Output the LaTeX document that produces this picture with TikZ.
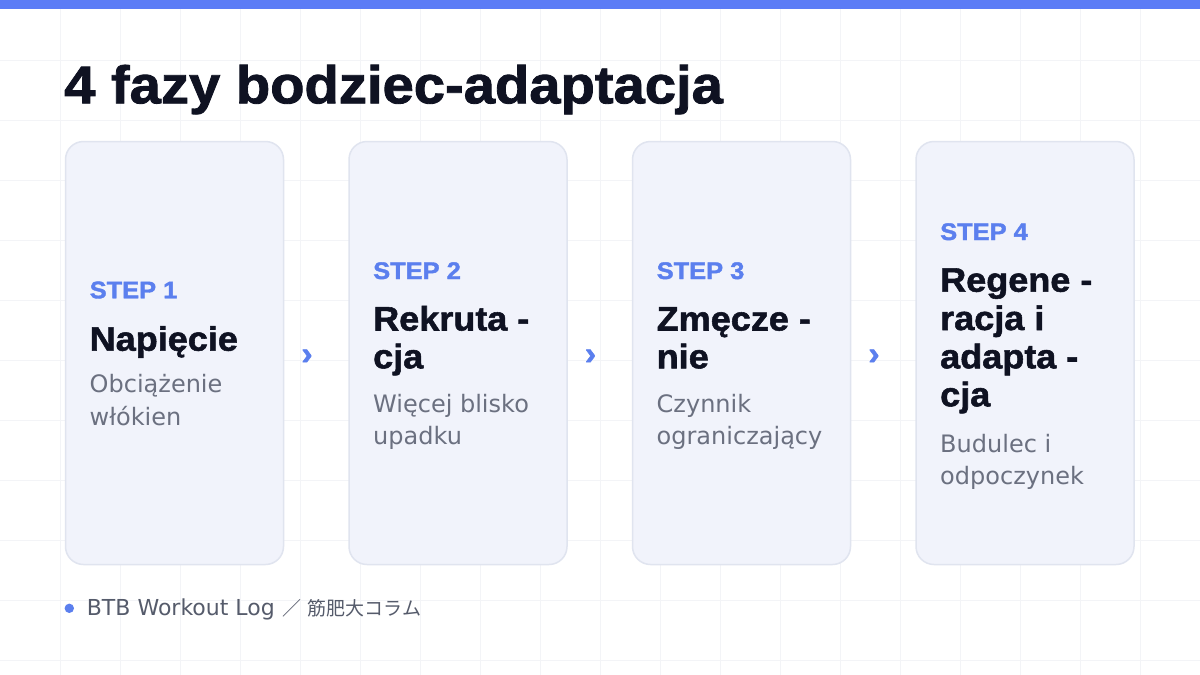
\documentclass[tikz,border=0pt]{standalone}
\usepackage{fontspec}
\setmainfont{DejaVu Sans}
\newfontfamily\headfont{Liberation Sans Bold}[FakeStretch=1.06, FakeBold=1.6]
\newfontfamily\cjk{Noto Sans CJK JP}
\definecolor{topbar}{HTML}{5B7CF6}
\definecolor{stepblue}{HTML}{5B7FEE}
\definecolor{ink}{HTML}{0F1222}
\definecolor{muted}{HTML}{6B7080}
\definecolor{footgrey}{HTML}{555B6B}
\definecolor{cardfill}{HTML}{F1F3FB}
\definecolor{cardline}{HTML}{E0E4EF}
\definecolor{gridline}{HTML}{F3F4F7}

\begin{document}
\begin{tikzpicture}[%
      x=1pt, y=-1pt,
      every node/.style={inner sep=0pt, anchor=base west},
      card/.style={draw=cardline, line width=1.5pt, fill=cardfill,
        rounded corners=18pt, minimum width=218pt, minimum height=423pt,
        anchor=center},
      steplabel/.style={text=stepblue, font=\headfont\fontsize{24}{24}\selectfont},
      phase/.style={text=ink, font=\headfont\fontsize{34}{34}\selectfont},
      note/.style={text=muted, font=\fontsize{24}{24}\selectfont},
      chevron/.style={text=stepblue, anchor=center, font=\headfont\fontsize{32}{32}\selectfont},
      ]
      \useasboundingbox (0,0) rectangle (1200,675);
      \fill [white] (0,0) rectangle (1200,675);
      \foreach \gx in {60,120,...,1140} \draw [gridline, line width=1pt] (\gx,0) -- (\gx,675);
      \foreach \gy in {60,120,...,660} \draw [gridline, line width=1pt] (0,\gy) -- (1200,\gy);
      \fill [topbar] (0,0) rectangle (1200,9);

      \node [text=ink, font=\headfont\fontsize{53}{53}\selectfont] (title) at (64,103.3) {4 fazy bodziec-adaptacja};

      \node [card] (card1) at (174.5,353) {};
      \node [card] (card2) at (458,353) {};
      \node [card] (card3) at (741.5,353) {};
      \node [card] (card4) at (1025,353) {};

      \node [chevron] (arr12) at (307,357) {›};
      \node [chevron] (arr23) at (590.5,357) {›};
      \node [chevron] (arr34) at (874,357) {›};

      \node [steplabel] (step1) at (89.5,298.3) {STEP 1};
      \node [phase] (phase1a) at (89.5,350.7) {Napięcie};
      \node [note] (note1a) at (89.5,392.7) {Obciążenie};
      \node [note] (note1b) at (89.5,425.7) {włókien};

      \node [steplabel] (step2) at (373,279) {STEP 2};
      \node [phase] (phase2a) at (373,330.5) {Rekruta -};
      \node [phase] (phase2b) at (373,368.3) {cja};
      \node [note] (note2a) at (373,412.5) {Więcej blisko};
      \node [note] (note2b) at (373,444.7) {upadku};

      \node [steplabel] (step3) at (656.5,279) {STEP 3};
      \node [phase] (phase3a) at (656.5,330.5) {Zmęcze -};
      \node [phase] (phase3b) at (656.5,368.3) {nie};
      \node [note] (note3a) at (656.5,412.5) {Czynnik};
      \node [note] (note3b) at (656.5,444.7) {ograniczający};

      \node [steplabel] (step4) at (940,240) {STEP 4};
      \node [phase] (phase4a) at (940,291.7) {Regene -};
      \node [phase] (phase4b) at (940,330) {racja i};
      \node [phase] (phase4c) at (940,368.3) {adapta -};
      \node [phase] (phase4d) at (940,406.3) {cja};
      \node [note] (note4a) at (940,452) {Budulec i};
      \node [note] (note4b) at (940,484.5) {odpoczynek};

      \node [circle, fill=stepblue, minimum size=9.4pt, anchor=center] (dot) at (69.3,608.3) {};
      \node [text=footgrey, font=\fontsize{22}{22}\selectfont] (source) at (86.7,615) {BTB Workout Log\hspace{8pt}{\cjk\fontsize{19}{19}\selectfont ／\hspace{6pt}筋肥大コラム}};
      \end{tikzpicture}
\end{document}
